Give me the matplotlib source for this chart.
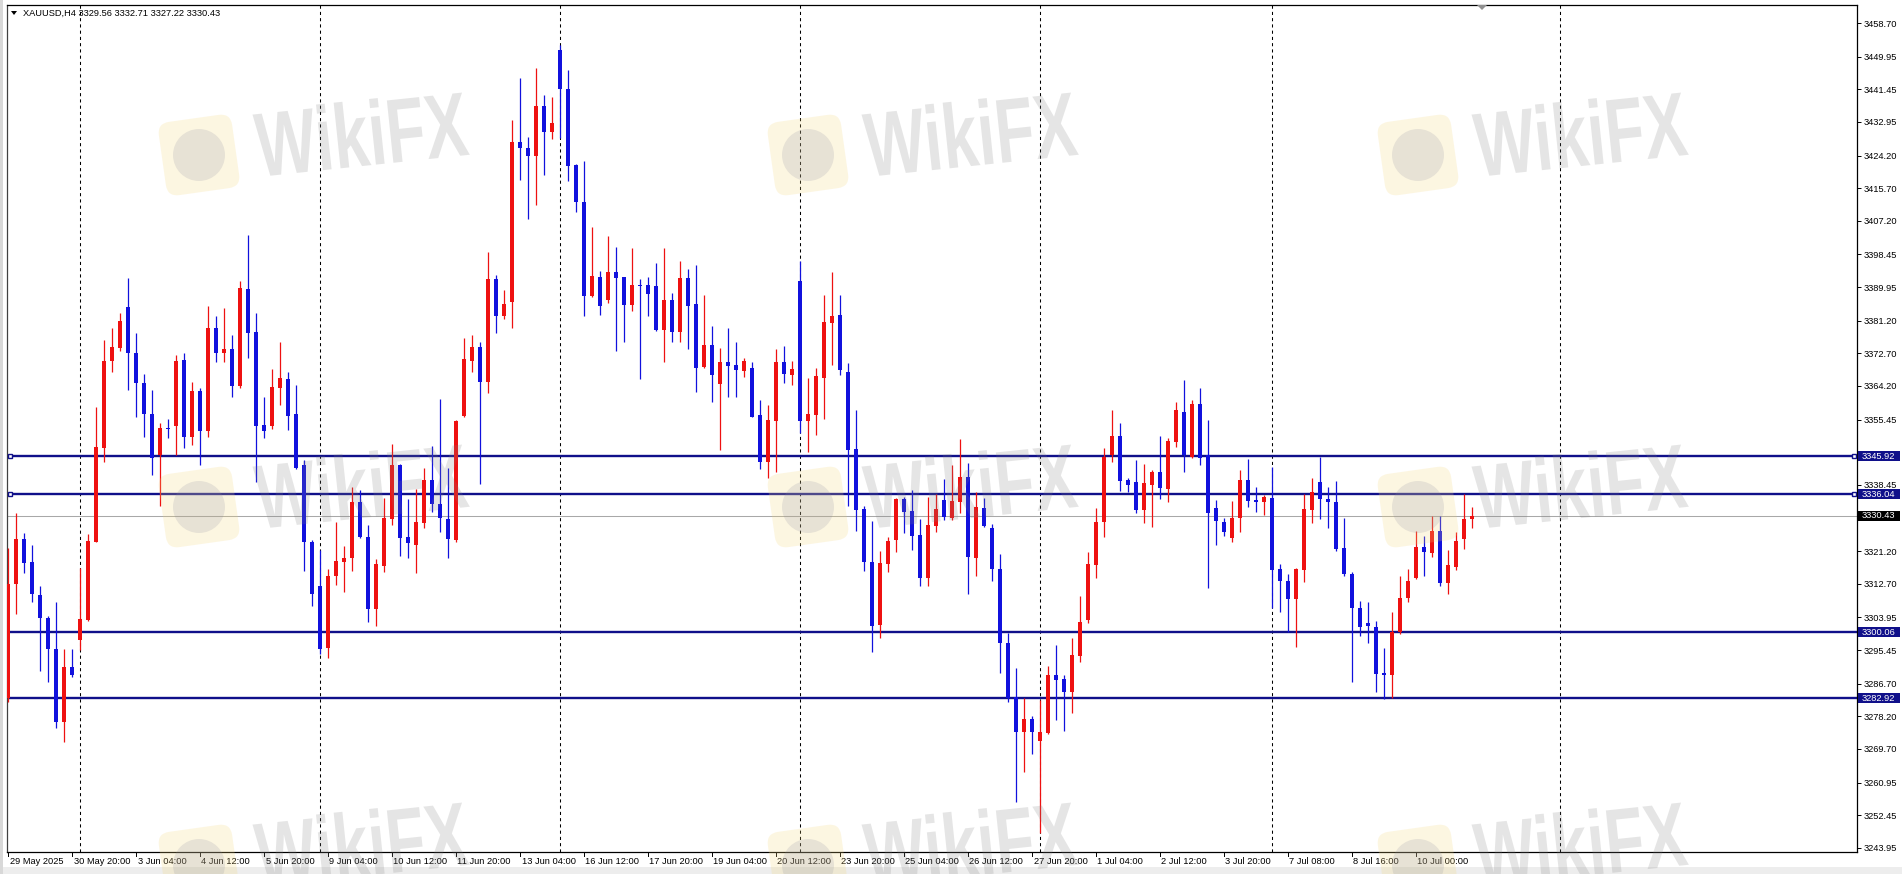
import matplotlib
matplotlib.use('Agg')
import matplotlib.pyplot as plt
from matplotlib.patches import Rectangle, FancyBboxPatch, PathPatch, Circle, Polygon
from matplotlib.textpath import TextPath
from matplotlib.font_manager import FontProperties
import matplotlib.transforms as mtrans
import numpy as np

plt.rcParams['font.family'] = ['Liberation Sans', 'DejaVu Sans']

# ---------------- data ----------------
symbol = "XAUUSD,H4"
last_ohlc = [3329.56, 3332.71, 3327.22, 3330.43]

opens = [3283.0, 3312.6, 3324.3, 3318.3, 3309.8, 3303.9, 3295.6, 3276.6, 3291.0, 3298.1,
         3303.3, 3323.7, 3348.1, 3370.7, 3374.2, 3384.7, 3372.7, 3364.9, 3356.8, 3346.1,
         3353.2, 3353.9, 3371.0, 3351.0, 3362.9, 3352.6, 3379.4, 3372.7, 3373.8, 3364.3,
         3389.4, 3378.2, 3354.0, 3353.9, 3363.8, 3366.0, 3356.8, 3343.5, 3323.7, 3312.2,
         3296.1, 3314.6, 3318.5, 3319.3, 3333.9, 3325.0, 3306.1, 3317.4, 3329.6, 3343.6,
         3325.0, 3322.8, 3328.4, 3339.7, 3333.6, 3329.6, 3324.1, 3356.5, 3370.7, 3374.4,
         3365.3, 3392.1, 3382.5, 3386.0, 3427.6, 3426.1, 3424.2, 3437.2, 3430.4, 3451.7,
         3441.5, 3421.7, 3412.2, 3387.5, 3392.7, 3386.6, 3393.8, 3392.5, 3385.3, 3390.5,
         3390.5, 3390.3, 3378.8, 3386.6, 3378.2, 3392.2, 3385.5, 3369.2, 3374.9, 3364.6,
         3370.4, 3369.7, 3368.1, 3369.0, 3356.6, 3344.5, 3355.1, 3370.4, 3367.1, 3391.5,
         3355.1, 3356.6, 3366.4, 3380.5, 3382.7, 3367.9, 3347.8, 3332.2, 3318.3, 3302.0,
         3317.8, 3324.1, 3334.8, 3331.7, 3325.4, 3314.3, 3327.8, 3334.5, 3329.7, 3334.1,
         3340.6, 3319.5, 3332.5, 3327.3, 3316.6, 3297.2, 3283.1, 3274.2, 3277.5, 3271.8,
         3273.8, 3289.0, 3287.9, 3284.6, 3294.0, 3303.3, 3317.6, 3328.7, 3346.1, 3351.3,
         3339.7, 3339.1, 3331.9, 3338.4, 3341.9, 3337.4, 3349.7, 3357.5, 3345.8, 3359.4,
         3346.1, 3332.4, 3328.7, 3324.7, 3329.7, 3339.7, 3334.5, 3333.9, 3335.1, 3316.6,
         3313.4, 3308.7, 3316.3, 3331.9, 3339.1, 3334.8, 3333.9, 3321.9, 3315.2, 3306.3,
         3302.4, 3301.5, 3289.4, 3289.0, 3300.1, 3308.9, 3314.3, 3322.4, 3320.6, 3326.4,
         3312.8, 3317.2, 3324.4, 3329.56]
highs = [3322.0, 3331.0, 3325.8, 3322.8, 3312.0, 3304.4, 3308.0, 3295.7, 3295.7, 3316.7,
         3325.6, 3358.8, 3376.2, 3379.2, 3383.1, 3392.2, 3377.9, 3367.2, 3363.2, 3354.5,
         3355.6, 3372.3, 3372.7, 3365.3, 3363.8, 3384.9, 3382.3, 3384.4, 3377.5, 3391.4,
         3403.5, 3383.1, 3361.4, 3368.6, 3375.7, 3367.8, 3364.5, 3344.9, 3324.1, 3321.5,
         3316.6, 3328.7, 3322.6, 3338.0, 3337.1, 3328.0, 3319.2, 3335.1, 3349.0, 3343.8,
         3334.8, 3337.4, 3342.9, 3348.7, 3360.8, 3342.8, 3355.3, 3376.8, 3377.6, 3375.6,
         3399.0, 3393.1, 3389.2, 3433.5, 3444.5, 3428.9, 3447.1, 3440.0, 3439.5, 3453.0,
         3446.5, 3421.9, 3422.8, 3405.7, 3394.1, 3403.3, 3400.5, 3392.7, 3400.2, 3392.1,
         3392.7, 3396.1, 3400.2, 3388.3, 3396.7, 3394.7, 3395.7, 3387.9, 3379.7, 3374.0,
         3379.4, 3375.6, 3371.4, 3370.5, 3360.6, 3359.3, 3373.8, 3374.7, 3370.7, 3396.7,
         3366.4, 3369.0, 3387.9, 3393.8, 3387.9, 3370.1, 3358.0, 3333.0, 3329.1, 3321.2,
         3325.0, 3335.1, 3335.4, 3337.1, 3329.6, 3335.4, 3336.0, 3340.0, 3343.5, 3350.4,
         3344.1, 3336.5, 3335.0, 3328.2, 3320.4, 3299.8, 3290.9, 3282.9, 3278.4, 3282.5,
         3291.4, 3296.8, 3289.0, 3298.5, 3309.6, 3320.9, 3332.4, 3348.0, 3358.0, 3354.5,
         3340.3, 3344.9, 3343.8, 3342.3, 3351.3, 3350.6, 3359.9, 3365.8, 3360.6, 3363.8,
         3355.3, 3334.5, 3329.9, 3334.3, 3342.3, 3345.2, 3338.0, 3335.8, 3343.2, 3317.8,
         3315.2, 3316.9, 3336.0, 3340.3, 3345.8, 3338.0, 3339.5, 3329.7, 3315.7, 3308.2,
         3307.9, 3303.0, 3295.9, 3305.3, 3314.6, 3316.6, 3326.4, 3325.2, 3330.4, 3330.4,
         3321.5, 3326.1, 3336.0, 3332.71]
lows = [3282.0, 3304.8, 3315.4, 3308.0, 3290.0, 3287.2, 3275.2, 3271.4, 3288.5, 3295.5,
        3303.0, 3323.5, 3344.5, 3367.8, 3373.3, 3363.2, 3356.2, 3351.0, 3340.9, 3333.0,
        3350.6, 3346.2, 3348.0, 3348.8, 3343.6, 3351.0, 3370.5, 3370.5, 3361.2, 3363.8,
        3371.4, 3339.3, 3350.6, 3353.0, 3359.2, 3352.7, 3342.6, 3316.0, 3307.0, 3294.3,
        3293.5, 3312.4, 3310.6, 3316.0, 3324.7, 3302.8, 3301.8, 3315.7, 3328.0, 3320.0,
        3319.3, 3315.4, 3327.1, 3331.3, 3326.1, 3319.3, 3323.7, 3356.2, 3367.8, 3338.6,
        3362.5, 3377.9, 3381.6, 3379.4, 3417.8, 3407.7, 3411.3, 3419.1, 3428.5, 3428.7,
        3417.6, 3409.4, 3382.5, 3387.3, 3382.7, 3385.7, 3373.3, 3375.7, 3383.6, 3366.0,
        3382.3, 3378.5, 3370.5, 3375.6, 3375.6, 3373.8, 3362.6, 3369.0, 3360.1, 3347.5,
        3361.4, 3361.4, 3366.6, 3356.0, 3342.6, 3340.3, 3341.9, 3364.9, 3364.5, 3351.9,
        3346.9, 3351.4, 3355.6, 3369.7, 3367.1, 3333.0, 3326.5, 3315.9, 3295.0, 3298.7,
        3315.7, 3320.9, 3325.8, 3321.5, 3312.0, 3312.2, 3326.1, 3329.3, 3329.3, 3331.0,
        3310.0, 3314.6, 3327.6, 3313.4, 3289.4, 3281.8, 3255.8, 3263.6, 3268.3, 3247.7,
        3273.5, 3277.2, 3274.4, 3279.0, 3292.4, 3302.4, 3314.3, 3325.0, 3344.3, 3336.9,
        3336.7, 3331.1, 3328.4, 3327.6, 3334.8, 3333.9, 3348.4, 3341.9, 3345.4, 3343.6,
        3311.5, 3322.8, 3325.2, 3323.5, 3326.1, 3332.8, 3331.5, 3330.6, 3306.5, 3305.3,
        3300.2, 3296.3, 3313.1, 3328.4, 3329.6, 3327.3, 3321.2, 3314.6, 3287.0, 3299.2,
        3297.2, 3284.6, 3282.7, 3282.9, 3299.5, 3308.0, 3313.9, 3314.6, 3319.8, 3312.0,
        3310.0, 3316.3, 3321.8, 3327.22]
closes = [3312.6, 3324.3, 3318.0, 3310.0, 3303.9, 3295.6, 3276.6, 3291.1, 3289.0, 3303.5,
          3323.8, 3348.2, 3370.7, 3374.4, 3381.1, 3372.7, 3364.9, 3356.8, 3345.5, 3353.2,
          3352.9, 3370.7, 3351.0, 3362.9, 3352.6, 3379.4, 3372.7, 3373.8, 3364.3, 3389.8,
          3378.1, 3353.9, 3352.5, 3363.9, 3366.2, 3356.5, 3342.8, 3323.5, 3310.0, 3295.7,
          3314.8, 3318.6, 3319.5, 3333.9, 3325.0, 3306.1, 3317.8, 3329.9, 3343.6, 3324.5,
          3323.4, 3328.9, 3339.7, 3333.6, 3329.9, 3324.4, 3355.1, 3371.2, 3374.4, 3365.3,
          3392.1, 3382.5, 3385.5, 3427.8, 3426.1, 3424.2, 3437.2, 3430.2, 3432.6, 3441.5,
          3421.6, 3412.0, 3387.5, 3392.9, 3384.9, 3393.8, 3392.4, 3385.3, 3390.5, 3390.2,
          3388.1, 3378.8, 3386.6, 3378.2, 3392.4, 3385.1, 3368.8, 3374.9, 3367.1, 3370.4,
          3369.5, 3368.4, 3370.7, 3356.2, 3344.5, 3355.3, 3370.5, 3367.2, 3368.6, 3355.1,
          3356.8, 3366.9, 3380.9, 3382.5, 3368.4, 3347.5, 3331.9, 3318.3, 3301.8, 3318.0,
          3323.8, 3334.8, 3331.5, 3325.2, 3314.3, 3328.0, 3332.2, 3330.2, 3334.3, 3340.6,
          3319.8, 3332.8, 3327.8, 3316.5, 3297.2, 3282.9, 3274.2, 3277.5, 3274.0, 3274.2,
          3289.0, 3287.7, 3284.6, 3294.2, 3302.8, 3317.8, 3328.9, 3345.8, 3351.3, 3339.5,
          3338.3, 3331.9, 3338.9, 3341.9, 3337.6, 3349.9, 3358.0, 3346.1, 3359.4, 3345.5,
          3331.1, 3329.1, 3326.1, 3329.7, 3339.7, 3334.3, 3333.9, 3335.4, 3316.3, 3313.3,
          3308.7, 3316.6, 3332.2, 3336.7, 3334.8, 3333.9, 3321.8, 3315.2, 3306.3, 3301.5,
          3301.8, 3289.1, 3289.0, 3300.1, 3309.1, 3313.4, 3322.4, 3320.9, 3326.4, 3312.8,
          3317.6, 3323.8, 3329.6, 3330.43]

time_labels = ["29 May 2025", "30 May 20:00", "3 Jun 04:00", "4 Jun 12:00", "5 Jun 20:00",
               "9 Jun 04:00", "10 Jun 12:00", "11 Jun 20:00", "13 Jun 04:00", "16 Jun 12:00",
               "17 Jun 20:00", "19 Jun 04:00", "20 Jun 12:00", "23 Jun 20:00", "25 Jun 04:00",
               "26 Jun 12:00", "27 Jun 20:00", "1 Jul 04:00", "2 Jul 12:00", "3 Jul 20:00",
               "7 Jul 08:00", "8 Jul 16:00", "10 Jul 00:00"]
label_step = 8                      # one time label every 8 bars
week_separators = [9, 39, 69, 99, 129, 158, 194]   # bar index of period separators
level_lines = [3345.92, 3336.04, 3300.06, 3282.92]
selected_levels = [3345.92, 3336.04]
price_ticks = [3458.70, 3449.95, 3441.45, 3432.95, 3424.20, 3415.70, 3407.20, 3398.45,
               3389.95, 3381.20, 3372.70, 3364.20, 3355.45, 3338.45, 3321.20, 3312.70,
               3303.95, 3295.45, 3286.70, 3278.20, 3269.70, 3260.95, 3252.45, 3243.95]

# ---------------- layout / style ----------------
W, H = 1902, 874
L_PX, R_PX, T_PX, B_PX = 7, 1857, 5, 852
PPU = 3.841            # pixels per dollar
REF_P, REF_Y = 3458.70, 23
BAR_PX, BAR0_PX = 8, 8

RED = '#EE1111'
BLUE = '#1111DD'
NAVY = '#10108A'
FS = 6.7

fig = plt.figure(figsize=(W / 100, H / 100), dpi=100)
fig.patch.set_facecolor('white')
ax = fig.add_axes([L_PX / W, 1 - B_PX / H, (R_PX - L_PX) / W, (B_PX - T_PX) / H])
ax.set_facecolor('white')

ymin = REF_P - (B_PX - REF_Y) / PPU
ymax = REF_P + (REF_Y - T_PX) / PPU
ax.set_ylim(ymin, ymax)
xmin = (L_PX - BAR0_PX) / BAR_PX
xmax = (R_PX - BAR0_PX) / BAR_PX
ax.set_xlim(xmin, xmax)

o = np.array(opens); h = np.array(highs); l = np.array(lows); c = np.array(closes)
x = np.arange(len(o))
up = c >= o
cols = np.where(up, RED, BLUE)

# week separators
for s in week_separators:
    ax.axvline(s, color='black', lw=0.75, ls=(0, (3, 3)), zorder=1)

# levels
for v in level_lines:
    ax.axhline(v, color=NAVY, lw=1.7, zorder=2)
ax.axhline(last_ohlc[3], color='#A8A8A8', lw=0.75, zorder=1.5)

# candles
ax.vlines(x, l, h, colors=cols, lw=0.9, zorder=3)
body_lo = np.minimum(o, c)
body_h = np.maximum(np.abs(c - o), 0.35)
ax.bar(x, body_h, bottom=body_lo, width=0.6, color=cols, edgecolor='none', zorder=4)

# selection handles on two levels
hx = mtrans.blended_transform_factory(ax.transAxes, ax.transData)
for v in selected_levels:
    for fx in [(10 - L_PX) / (R_PX - L_PX), (1854 - L_PX) / (R_PX - L_PX)]:
        ax.plot([fx], [v], marker='s', ms=3.2, mfc='white', mec=NAVY, mew=1.0,
                transform=hx, clip_on=False, zorder=6)

# axes frame
for sp in ax.spines.values():
    sp.set_color('black')
    sp.set_linewidth(0.9)
ax.spines['left'].set_color('#404040')

# y ticks on the right
ax.yaxis.tick_right()
ax.set_yticks(price_ticks)
ax.set_yticklabels([f"{v:.2f}" for v in price_ticks])
ax.tick_params(axis='y', direction='out', length=3, width=0.7, pad=1.6,
               labelsize=FS, colors='black')
ax.set_xticks([])

# right-hand price boxes
bt = mtrans.blended_transform_factory(fig.transFigure, ax.transData)
box_h = 10 / PPU
for v, fc in [(lv, NAVY) for lv in level_lines] + [(last_ohlc[3], 'black')]:
    ax.add_patch(Rectangle((1858 / W, v - box_h / 2), 42 / W, box_h, transform=bt,
                           facecolor=fc, edgecolor='none', clip_on=False, zorder=10))
    ax.text(1862 / W, v, f"{v:.2f}", transform=bt, color='white', fontsize=FS,
            va='center', ha='left', clip_on=False, zorder=11)

# time labels along the bottom
tt = mtrans.blended_transform_factory(ax.transData, fig.transFigure)
for k, lab in enumerate(time_labels):
    idx = k * label_step
    ax.plot([idx, idx], [1 - B_PX / H, 1 - (B_PX + 4) / H], color='black', lw=0.7,
            transform=tt, clip_on=False)
    ax.text(idx, 1 - 862 / H, lab, transform=mtrans.offset_copy(tt, fig=fig, x=1.5, y=0, units='dots'),
            fontsize=FS, ha='left', va='center', color='black', clip_on=False)

# title
fig.text(23 / W, 1 - 13 / H, symbol + " " + " ".join(f"{v:.2f}" for v in last_ohlc),
         fontsize=FS, ha='left', va='center', color='black')
fig.add_artist(Polygon([[11 / W, 1 - 11 / H], [17 / W, 1 - 11 / H], [14 / W, 1 - 15 / H]],
                       closed=True, facecolor='black', edgecolor='none', transform=fig.transFigure))
# chart-shift marker
fig.add_artist(Polygon([[1477 / W, 1 - 5 / H], [1487 / W, 1 - 5 / H], [1482 / W, 1 - 10 / H]],
                       closed=True, facecolor='#909090', edgecolor='none', transform=fig.transFigure))

# outer window edges
fig.add_artist(Rectangle((0, 0), 1, 7 / H, transform=fig.transFigure, facecolor='#EDEDED',
                         edgecolor='none'))
fig.add_artist(Rectangle((0, 0), 3 / W, 1, transform=fig.transFigure, facecolor='#D8D8D8',
                         edgecolor='none'))

# watermarks
pix = mtrans.Affine2D().scale(1 / W, 1 / H) + fig.transFigure
fp = FontProperties(family='Liberation Sans', weight='bold')
tp = TextPath((0, 0), "WikiFX", size=100, prop=fp)
bb = tp.get_extents()
text_w, text_h = 212, 66
for cy in [133, 485, 843]:
    for cx in [361, 970, 1580]:
        tr = (mtrans.Affine2D().translate(-bb.x0 - bb.width / 2, -bb.y0 - bb.height / 2)
              .scale(text_w / bb.width, text_h / bb.height).rotate_deg(6)
              .translate(cx, H - cy))
        fig.add_artist(PathPatch(tp, transform=tr + pix, facecolor=(0.5, 0.5, 0.5),
                                 edgecolor='none', alpha=0.2))
        icx, icy = cx - 162, cy + 22
        rot = mtrans.Affine2D().rotate_deg_around(icx, H - icy, 8)
        fig.add_artist(FancyBboxPatch((icx - 37, H - icy - 37), 74, 74,
                                      boxstyle='round,pad=0,rounding_size=12',
                                      transform=rot + pix, facecolor='#F5D77A',
                                      edgecolor='none', alpha=0.22))
        fig.add_artist(Circle((icx, H - icy), 26, transform=pix, facecolor='#8A8AA0',
                              edgecolor='none', alpha=0.18))

fig.savefig('out.png', dpi=100, facecolor='white')
